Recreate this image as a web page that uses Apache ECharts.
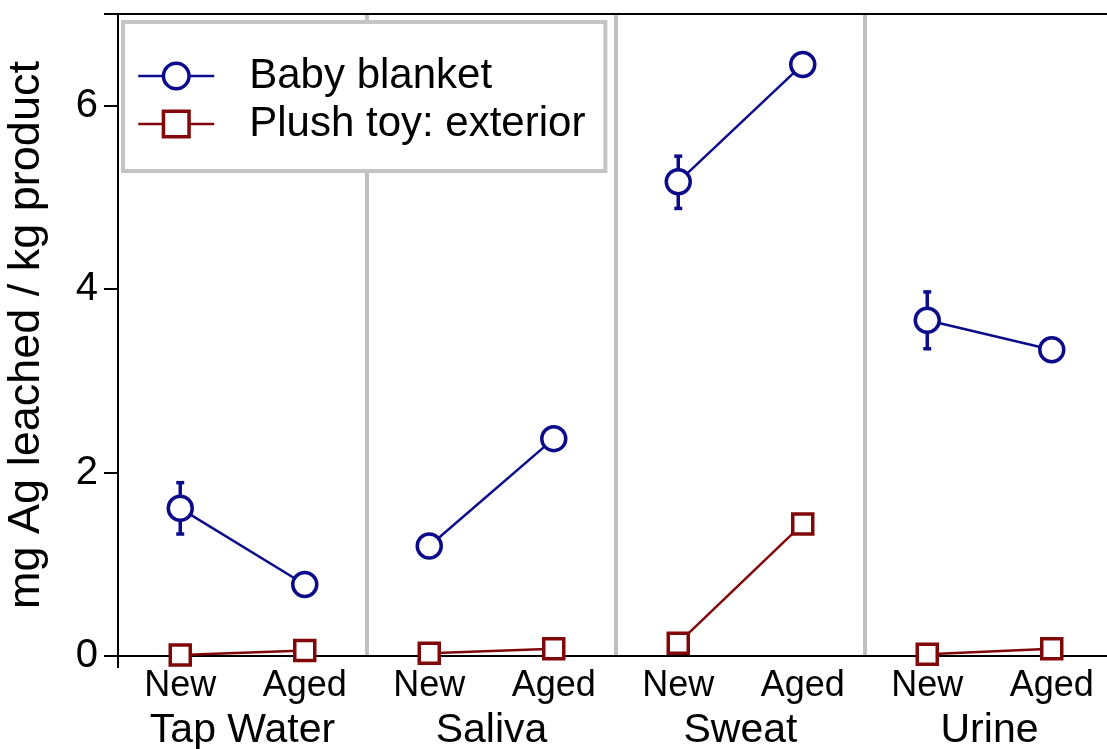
<!DOCTYPE html>
<html>
<head>
<meta charset="utf-8">
<script src="https://cdn.jsdelivr.net/npm/echarts@6/dist/echarts.min.js"></script>
<style>
  html, body { margin: 0; padding: 0; background: #fff; }
  #chart { width: 1107px; height: 749px; }
</style>
</head>
<body>
<div id="chart"></div>
<script>
// x categories, two per fluid
const conditions = ['New', 'Aged', 'New', 'Aged', 'New', 'Aged', 'New', 'Aged'];
const fluids = ['Tap Water', 'Saliva', 'Sweat', 'Urine'];

// mg Ag leached / kg product
const blanket = [1.61, 0.78, 1.20, 2.37, 5.17, 6.45, 3.66, 3.34];
const plush = [0.01, 0.06, 0.03, 0.08, 0.14, 1.44, 0.02, 0.08];

// error bars (blanket, "New" samples only)
const blanketLow = [1.33, null, null, null, 4.88, null, 3.35, null];
const blanketHigh = [1.89, null, null, null, 5.45, null, 3.97, null];

const yTicks = [0, 2, 4, 6];

const FONT = 'Liberation Sans';
const BLUE = '#0c0c8a';
const RED = '#800808';

const chart = echarts.init(document.getElementById('chart'));

function pairSeries(name, values, color, symbol, size) {
  return fluids.map((f, g) => ({
    name: name,
    type: 'line',
    xAxisIndex: 0,
    data: [[2 * g, values[2 * g]], [2 * g + 1, values[2 * g + 1]]],
    symbol: symbol,
    symbolSize: size,
    lineStyle: { color: color, width: 2.5 },
    itemStyle: { color: '#fff', borderColor: color, borderWidth: 3.5 },
    z: 3,
    animation: false
  }));
}

const errData = [];
blanketLow.forEach((lo, i) => {
  if (lo !== null) errData.push([i, lo, blanketHigh[i]]);
});

const option = {
  backgroundColor: '#fff',
  textStyle: { fontFamily: FONT },
  grid: { left: 118, top: 14, width: 996, bottom: 93, outerBoundsMode: 'none' },
  legend: {
    orient: 'vertical',
    left: 123,
    top: 22,
    data: ['Baby blanket', 'Plush toy: exterior'],
    backgroundColor: '#fff',
    borderColor: '#c4c4c4',
    borderWidth: 4,
    borderRadius: 0,
    padding: [33, 20, 26, 14],
    itemWidth: 76,
    itemHeight: 32,
    itemGap: 6,
    lineStyle: { width: 2.5 },
    itemStyle: { borderWidth: 3.5 },
    textStyle: { fontSize: 42, color: '#000', fontFamily: FONT, padding: [0, 0, 0, 30] }
  },
  xAxis: [
    {
      type: 'category',
      data: conditions,
      position: 'bottom',
      boundaryGap: true,
      axisLine: { lineStyle: { color: '#000', width: 2 } },
      axisTick: { alignWithLabel: true, length: 12, lineStyle: { color: '#000', width: 2 } },
      axisLabel: { fontSize: 36, color: '#000', margin: 12, interval: 0, fontFamily: FONT },
      splitLine: { show: false }
    },
    {
      type: 'category',
      data: fluids,
      position: 'bottom',
      boundaryGap: true,
      axisLine: { show: false },
      axisTick: { show: true, interval: (i) => i === 0, length: 12, lineStyle: { color: '#000', width: 2 } },
      axisLabel: { fontSize: 41, color: '#000', margin: 54, interval: 0, fontFamily: FONT },
      splitLine: { show: true, interval: (i) => i > 0, lineStyle: { color: '#c0c0c0', width: 4 } }
    },
    {
      type: 'category',
      data: conditions,
      position: 'top',
      axisLine: { lineStyle: { color: '#000', width: 2 } },
      axisTick: { show: false },
      axisLabel: { show: false }
    }
  ],
  yAxis: {
    type: 'value',
    min: 0,
    max: 7,
    interval: 2,
    name: 'mg Ag leached / kg product',
    nameLocation: 'middle',
    nameGap: 69,
    nameTextStyle: { fontSize: 45, color: '#000', fontFamily: FONT },
    axisLine: { show: true, lineStyle: { color: '#000', width: 2 } },
    axisTick: { show: true, length: 14, lineStyle: { color: '#000', width: 2 } },
    axisLabel: {
      fontSize: 40, color: '#000', margin: 20, fontFamily: FONT,
      formatter: (v) => (yTicks.indexOf(v) >= 0 ? String(v) : '')
    },
    splitLine: { show: false }
  },
  series: [
    {
      type: 'custom',
      name: 'blanket error',
      xAxisIndex: 0,
      data: errData,
      z: 2,
      animation: false,
      renderItem: function (params, api) {
        const lo = api.coord([api.value(0), api.value(1)]);
        const hi = api.coord([api.value(0), api.value(2)]);
        const cap = 4;
        const style = { stroke: BLUE, lineWidth: 3.5 };
        return {
          type: 'group',
          children: [
            { type: 'line', shape: { x1: lo[0], y1: lo[1], x2: hi[0], y2: hi[1] }, style: style },
            { type: 'line', shape: { x1: lo[0] - cap, y1: lo[1], x2: lo[0] + cap, y2: lo[1] }, style: style },
            { type: 'line', shape: { x1: hi[0] - cap, y1: hi[1], x2: hi[0] + cap, y2: hi[1] }, style: style }
          ]
        };
      }
    },
    ...pairSeries('Baby blanket', blanket, BLUE, 'circle', 24),
    ...pairSeries('Plush toy: exterior', plush, RED, 'rect', 20)
  ]
};

chart.setOption(option);
</script>
</body>
</html>
